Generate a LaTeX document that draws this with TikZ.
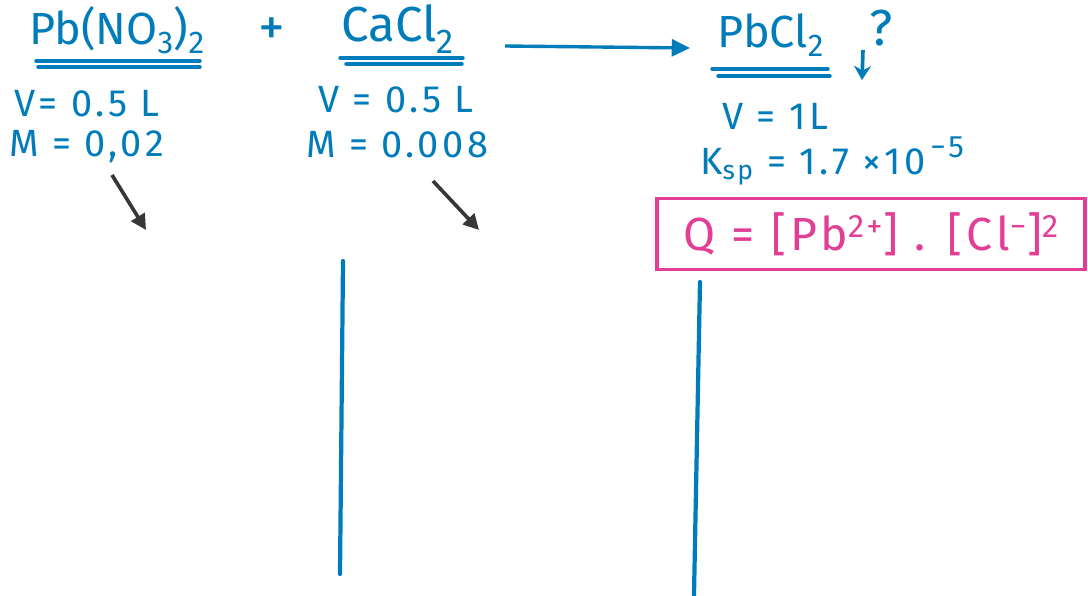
\documentclass[tikz,border=0pt]{standalone}
\usepackage{fontspec}
\setmainfont{Fira Sans}
\usetikzlibrary{arrows.meta}
\definecolor{ink}{RGB}{0,124,186}
\definecolor{rose}{RGB}{226,62,150}
\definecolor{graphite}{RGB}{55,55,55}
\newfontfamily\wide[LetterSpace=9]{Fira Sans}
\tikzset{
  big/.style={text=ink, font=\fontsize{32}{36}\selectfont, inner sep=0pt},
  data/.style={text=ink, font=\wide\fontsize{27}{30}\selectfont, inner sep=0pt, anchor=west},
  under/.style={draw=ink, line width=2.4pt, line cap=round},
  pen/.style={draw=ink, line width=3pt, line cap=round},
  pointer/.style={draw=graphite, line width=2.6pt, -{Triangle[length=11pt,width=11pt]}},
}
\begin{document}
\begin{tikzpicture}[x=0.025cm,y=-0.025cm]
  \fill[white] (0,0) rectangle (1088,595);
  \useasboundingbox (0,0) rectangle (1088,595);

  % reactants and product
  \node[big] (pbno) at (117,30) {Pb(NO\textsubscript{3})\textsubscript{2}};
  \node[big, font=\fontsize{38}{40}\selectfont] (plus) at (272,32) {+};
  \node[big, font=\fontsize{35}{38}\selectfont] (cacl) at (398,29) {CaCl\textsubscript{2}};
  \node[big] (pbcl) at (771,35) {PbCl\textsubscript{2}};

  % double underlines
  \draw[under] (36,61) -- (200,61);
  \draw[under] (38,67) -- (200,67);
  \draw[under] (340,58) -- (463,58);
  \draw[under] (346,64) -- (462,64);
  \draw[under] (712,69) -- (828,69);
  \draw[under] (718,76) -- (830,76);

  % reaction arrow
  \coordinate (rxs) at (505,46);
  \coordinate (rxe) at (690,48);
  \draw[draw=ink, line width=2.4pt, -{Triangle[length=13pt,width=12pt]}] (rxs) -- (rxe);

  % precipitate mark
  \node[text=ink, font=\fontsize{36}{38}\selectfont, inner sep=0pt] (qm) at (881,28) {?};
  \coordinate (ds) at (863,50);
  \coordinate (de) at (862,80);
  \draw[draw=ink, line width=2.6pt, -{Stealth[length=10pt,width=12pt]}] (ds) -- (de);

  % data under each species
  \node[data] (v1) at (14,104) {V= 0.5 L};
  \node[data] (m1) at (9,147) {M = 0,02};
  \node[data] (v2) at (318,100) {V = 0.5 L};
  \node[data] (m2) at (306,145) {M = 0.008};
  \node[data] (v3) at (722,116) {V = 1L};
  \node[data] (k3) at (700,161) {K\textsubscript{sp} = 1.7 ×10\raisebox{0.45em}{\fontsize{22}{24}\selectfont\,−5}};

  % reaction quotient
  \node[draw=rose, line width=2.6pt, text=rose, font=\wide\fontsize{33}{36}\selectfont,
        minimum width=428*0.025cm, minimum height=71*0.025cm, inner sep=0pt]
        (q) at (871,234) {Q = [Pb\textsuperscript{2+}] . [Cl\textsuperscript{−}]\textsuperscript{2}};

  % pointers
  \coordinate (a1s) at (112,175);
  \coordinate (a1e) at (146,230);
  \draw[pointer] (a1s) -- (a1e);
  \coordinate (a2s) at (433,181);
  \coordinate (a2e) at (479,230);
  \draw[pointer] (a2s) -- (a2e);

  % vertical strokes
  \coordinate (l1t) at (343,261);
  \coordinate (l1b) at (340,574);
  \draw[pen] (l1t) -- (l1b);
  \coordinate (l2t) at (700,282);
  \coordinate (l2b) at (694,595);
  \draw[pen] (l2t) -- (l2b);
\end{tikzpicture}
\end{document}
